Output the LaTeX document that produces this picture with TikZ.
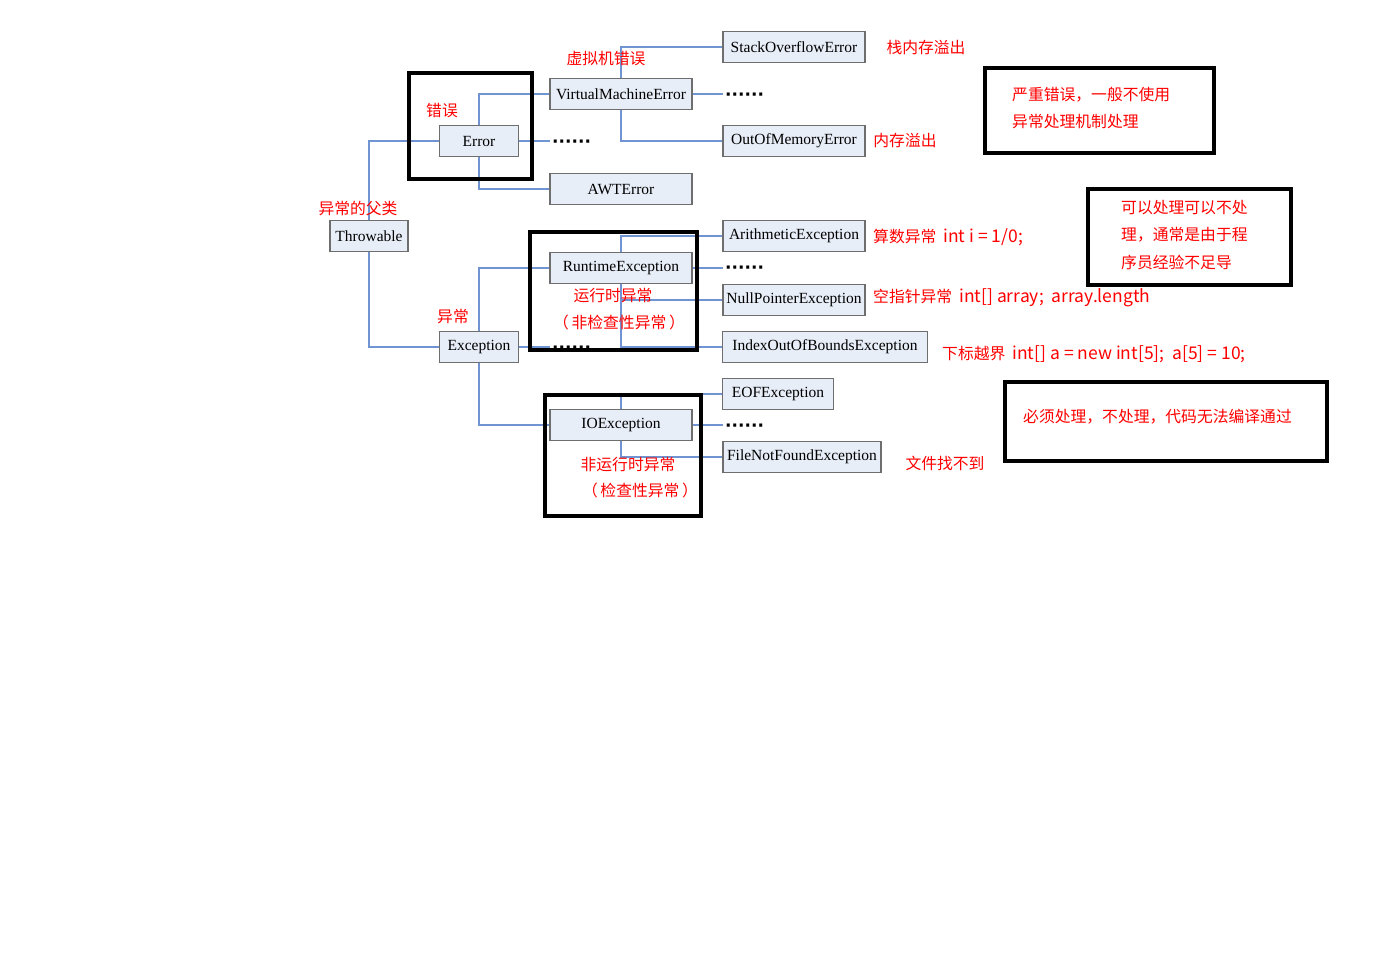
\documentclass[tikz,border=0pt]{standalone}
\usepackage{fontspec}
\setmainfont{Liberation Serif}
\newfontfamily\cjk{Noto Sans CJK SC}
\newfontfamily\dotfont{DejaVu Sans}
\definecolor{boxfill}{RGB}{232,238,248}
\definecolor{boxline}{RGB}{110,110,110}
\definecolor{conncol}{RGB}{112,148,210}
\definecolor{notered}{RGB}{255,0,0}
\newcommand{\lt}[1]{{\fontsize{17.5}{18}\selectfont #1}}
\tikzset{
  cls/.style={draw=boxline, fill=boxfill, line width=1.2pt, inner sep=0pt, minimum height=31pt,
    font=\fontsize{15.5}{18}\selectfont},
  conn/.style={draw=conncol, line width=2pt},
  note/.style={text=notered, font=\cjk\fontsize{15.8}{18}\selectfont, inner sep=0pt},
  dotsn/.style={font=\dotfont\bfseries\fontsize{17}{18}\selectfont, inner sep=0pt},
  frame/.style={draw=black, line width=4.5pt}
}
\begin{document}
\begin{tikzpicture}[x=1pt,y=-1pt]
\useasboundingbox (0,0) rectangle (1382,977);
\fill[white] (0,0) rectangle (1382,977);

% class boxes
\node[cls, minimum width=78pt] (thr) at (369,236) {Throwable};
\node[cls, minimum width=79pt] (err) at (479,141) {Error};
\node[cls, minimum width=79pt] (exc) at (479,347) {Exception};
\node[cls, minimum width=142pt] (vme) at (621,94) {VirtualMachineError};
\node[cls, minimum width=142pt] (awt) at (621,189) {AWTError};
\node[cls, minimum width=142pt] (rte) at (621,268) {RuntimeException};
\node[cls, minimum width=142pt] (ioe) at (621,425) {IOException};
\node[cls, minimum width=142pt] (soe) at (794,47) {StackOverflowError};
\node[cls, minimum width=142pt] (oom) at (794,141) {OutOfMemoryError};
\node[cls, minimum width=142pt] (ari) at (794,236) {ArithmeticException};
\node[cls, minimum width=142pt] (npe) at (794,300) {NullPointerException};
\node[cls, minimum width=205pt] (iob) at (825,347) {IndexOutOfBoundsException};
\node[cls, minimum width=111pt] (eof) at (778,394) {EOFException};
\node[cls, minimum width=158pt] (fnf) at (802,457) {FileNotFoundException};

% dots
\node[dotsn, anchor=west] (d1) at (552,144) {······};
\node[dotsn, anchor=west] (d2) at (725,97) {······};
\node[dotsn, anchor=west] (d3) at (725,270) {······};
\node[dotsn, anchor=west] (d4) at (552,350) {······};
\node[dotsn, anchor=west] (d5) at (725,428) {······};
\coordinate (e1) at (550,141);
\coordinate (e2) at (723,94);
\coordinate (e3) at (723,268);
\coordinate (e4) at (550,347);
\coordinate (e5) at (723,425);

% connectors
\draw[conn] (thr.north) |- (err.west);
\draw[conn] (thr.south) |- (exc.west);
\draw[conn] (err.north) |- (vme.west);
\draw[conn] (err.south) |- (awt.west);
\draw[conn] (err.east) -- (e1);
\draw[conn] (vme.north) |- (soe.west);
\draw[conn] (vme.south) |- (oom.west);
\draw[conn] (vme.east) -- (e2);
\draw[conn] (exc.north) |- (rte.west);
\draw[conn] (exc.south) |- (ioe.west);
\draw[conn] (exc.east) -- (e4);
\draw[conn] (rte.north) |- (ari.west);
\draw[conn] (rte.south) |- (npe.west);
\draw[conn] (rte.south) |- (iob.west);
\draw[conn] (rte.east) -- (e3);
\draw[conn] (ioe.north) |- (eof.west);
\draw[conn] (ioe.south) |- (fnf.west);
\draw[conn] (ioe.east) -- (e5);

% red notes
\node[note] (n1) at (606,59) {虚拟机错误};
\node[note] (n2) at (926,48) {栈内存溢出};
\node[note] (n3) at (442,111) {错误};
\node[note] (n4) at (905,141) {内存溢出};
\node[note] (n5) at (358,208) {异常的父类};
\node[note] (n6) at (453,317) {异常};
\node[note] (n7) at (613,296) {运行时异常};
\node[note] (n8) at (619,322) {（\,非检查性异常\,）};
\node[note] (n9) at (628,465) {非运行时异常};
\node[note] (n10) at (640,490) {（\,检查性异常\,）};
\node[note] (n11) at (945,463) {文件找不到};
\node[note, anchor=west] (n12) at (873,237) {算数异常\ \ \lt{int i = 1/0;}};
\node[note, anchor=west] (n13) at (873,298) {空指针异常\ \ \lt{int[] array;\ \ array.length}};
\node[note, anchor=west] (n14) at (942,354) {下标越界\ \ \lt{int[] a = new int[5];\ \ a[5] = 10;}};
\node[note, anchor=west] (n15) at (1012,95) {严重错误，一般不使用};
\node[note, anchor=west] (n16) at (1012,122) {异常处理机制处理};
\node[note, anchor=west] (n17) at (1121,208) {可以处理可以不处};
\node[note, anchor=west] (n18) at (1121,235) {理，通常是由于程};
\node[note, anchor=west] (n19) at (1121,262) {序员经验不足导};
\node[note, anchor=west] (n20) at (1023,417) {必须处理，不处理，代码无法编译通过};

% black frames
\draw[frame] (409,73) rectangle (532,179);
\draw[frame] (530,232) rectangle (697,350);
\draw[frame] (545,395) rectangle (701,516);
\draw[frame] (985,68) rectangle (1214,153);
\draw[frame] (1088,189) rectangle (1291,285);
\draw[frame] (1005,382) rectangle (1327,461);
\end{tikzpicture}
\end{document}
